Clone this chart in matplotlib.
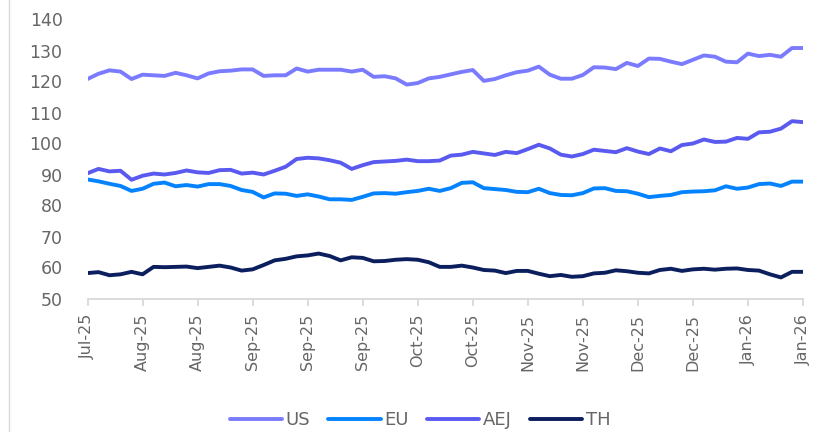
import numpy as np
import matplotlib

matplotlib.use("Agg")
import matplotlib.pyplot as plt  # noqa: E402
from matplotlib.lines import Line2D  # noqa: E402

us = [120.8, 122.5, 123.6, 123.2, 120.8, 122.2, 122.0, 121.8, 122.8, 122.0,
      121.0, 122.6, 123.3, 123.5, 123.9, 123.9, 121.8, 122.0, 122.0, 124.2,
      123.2, 123.8, 123.8, 123.8, 123.2, 123.8, 121.5, 121.7, 121.0, 119.0,
      119.5, 121.0, 121.5, 122.3, 123.1, 123.7, 120.2, 120.8, 122.0, 123.0,
      123.5, 124.8, 122.2, 120.9, 120.9, 122.1, 124.6, 124.5, 124.0, 126.0,
      125.0, 127.4, 127.3, 126.4, 125.6, 127.0, 128.4, 128.0, 126.4, 126.2,
      129.0, 128.2, 128.6, 128.0, 130.8, 130.8]
eu = [88.4, 87.8, 87.0, 86.3, 84.7, 85.4, 87.0, 87.4, 86.2, 86.6,
      86.1, 86.9, 86.9, 86.3, 85.0, 84.4, 82.6, 83.9, 83.8, 83.1,
      83.6, 82.9, 82.0, 82.0, 81.8, 82.8, 83.9, 84.0, 83.8, 84.3,
      84.7, 85.4, 84.7, 85.6, 87.3, 87.5, 85.6, 85.3, 85.0, 84.4,
      84.3, 85.4, 84.0, 83.4, 83.3, 84.0, 85.5, 85.6, 84.7, 84.6,
      83.8, 82.7, 83.1, 83.4, 84.3, 84.5, 84.6, 84.9, 86.2, 85.4,
      85.8, 86.9, 87.1, 86.3, 87.7, 87.7]
aej = [90.4, 91.8, 91.0, 91.2, 88.3, 89.6, 90.3, 90.0, 90.5, 91.3,
       90.7, 90.5, 91.4, 91.5, 90.3, 90.6, 90.0, 91.2, 92.5, 95.0,
       95.4, 95.2, 94.6, 93.8, 91.8, 93.0, 94.0, 94.2, 94.4, 94.8,
       94.3, 94.3, 94.5, 96.1, 96.4, 97.3, 96.8, 96.3, 97.3, 96.9,
       98.2, 99.6, 98.4, 96.4, 95.8, 96.6, 98.0, 97.6, 97.2, 98.5,
       97.4, 96.6, 98.4, 97.5, 99.5, 100.0, 101.3, 100.5, 100.6, 101.8,
       101.5, 103.6, 103.8, 104.8, 107.2, 106.9]
th = [58.2, 58.5, 57.5, 57.8, 58.6, 57.8, 60.2, 60.1, 60.2, 60.3,
      59.8, 60.2, 60.6, 60.0, 59.0, 59.4, 60.8, 62.3, 62.8, 63.6,
      63.9, 64.5, 63.7, 62.3, 63.3, 63.1, 62.0, 62.1, 62.5, 62.7,
      62.5, 61.7, 60.2, 60.2, 60.6, 60.0, 59.2, 59.0, 58.2, 58.9,
      58.9, 58.0, 57.2, 57.6, 57.0, 57.2, 58.1, 58.3, 59.1, 58.8,
      58.3, 58.1, 59.2, 59.6, 58.9, 59.4, 59.6, 59.3, 59.6, 59.7,
      59.2, 59.0, 57.8, 56.8, 58.6, 58.6]
tick_labels = ["Jul-25", "Aug-25", "Aug-25", "Sep-25", "Sep-25", "Sep-25",
               "Oct-25", "Oct-25", "Nov-25", "Nov-25", "Dec-25", "Dec-25",
               "Jan-26", "Jan-26"]
y_ticks = [50, 60, 70, 80, 90, 100, 110, 120, 130, 140]

series = {"US": (us, "#7b7bff"), "EU": (eu, "#0583ff"),
          "AEJ": (aej, "#5a5af0"), "TH": (th, "#0b1f5e")}

fig = plt.figure(figsize=(8.15, 4.32), dpi=100)
ax = fig.add_axes([87.5 / 815, 1 - 298.5 / 432, (803 - 87.5) / 815, (298.5 - 19.5) / 432])

x = np.arange(len(us))
for name, (vals, col) in series.items():
    ax.plot(x, vals, color=col, lw=2.8, label=name, solid_capstyle="round",
            solid_joinstyle="round")

step = (len(us) - 1) / (len(tick_labels) - 1)
ax.set_xlim(0, len(us) - 1)
ax.set_xticks(np.arange(len(tick_labels)) * step)
ax.set_xticklabels(tick_labels, rotation=90, va="top")
ax.set_ylim(50, 140)
ax.set_yticks(y_ticks)

grey = "#d9d9d9"
txt = "#666666"
for s in ["top", "right", "left"]:
    ax.spines[s].set_visible(False)
ax.spines["bottom"].set_color(grey)
ax.spines["bottom"].set_linewidth(1.3)
ax.tick_params(axis="x", colors=grey, length=5, width=1.3, pad=6,
               labelcolor=txt, labelsize=11.5)
ax.tick_params(axis="y", length=0, pad=18, labelcolor=txt, labelsize=12.5)

# faint frame edge on the left of the picture
fig.add_artist(Line2D([8.5 / 815, 8.5 / 815], [0, 1], color=grey, lw=1))

fig.legend(loc="center", bbox_to_anchor=(420 / 815, 1 - 420 / 432), ncol=4,
           frameon=False, fontsize=13, handlelength=2.9, handletextpad=0.2,
           columnspacing=1.0, labelcolor=txt)

fig.savefig("out.png", dpi=100)
